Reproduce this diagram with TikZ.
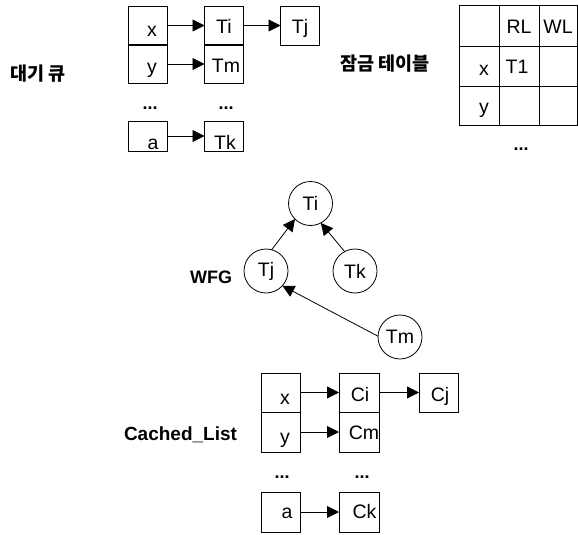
\documentclass[tikz,border=0pt]{standalone}
\usepackage{fontspec}
\setmainfont{Liberation Sans}
\newfontfamily\kr{Noto Sans CJK KR}
\usetikzlibrary{arrows.meta}
\begin{document}
\begin{tikzpicture}[x=1pt,y=-1pt,
  box/.style={draw, line width=0.8pt, minimum width=39pt, minimum height=39pt, inner sep=0pt, outer sep=0pt},
  shortbox/.style={box, minimum height=30pt},
  txt/.style={inner sep=0pt, anchor=base, font=\fontsize{19.5}{19.5}\selectfont},
  dots/.style={inner sep=0pt, anchor=base, font=\bfseries\fontsize{18}{18}\selectfont},
  lbl/.style={inner sep=0pt, font=\bfseries\fontsize{18}{18}\selectfont},
  krlbl/.style={inner sep=0pt, font=\kr\bfseries\fontsize{18.5}{18.5}\selectfont},
  arr/.style={-{Triangle[length=12pt,width=12pt]}, line width=0.8pt},
  circ/.style={draw, circle, minimum size=44pt, line width=0.8pt, inner sep=0pt, outer sep=0pt, font=\fontsize{19.5}{19.5}\selectfont},
  grid/.style={line width=0.8pt}]
\useasboundingbox (0,0) rectangle (578,535);

% ---------- waiting queue ----------
\node[krlbl] (lblq) at (38,74) {대기 큐};
\node[box] (qx) at (147.5,25.5) {};
\node[box] (qy) at (147.5,64) {};
\node[box] (qTi) at (224,25.5) {};
\node[box] (qTm) at (224,64) {};
\node[box] (qTj) at (300,25.5) {};
\node[shortbox] (qa) at (147.5,136) {};
\node[shortbox] (qTk) at (224,136) {};
\node[txt] (tqx) at (152,37) {x};
\node[txt] (tqy) at (152,74) {y};
\node[txt] (tqTi) at (224,34) {Ti};
\node[txt] (tqTm) at (226,72) {Tm};
\node[txt] (tqTj) at (300,34) {Tj};
\node[txt] (tqa) at (153,149) {a};
\node[txt] (tqTk) at (225,149) {Tk};
\node[dots] (qd1) at (150,109) {...};
\node[dots] (qd2) at (226,109) {...};
\draw[arr] (qx) -- (qTi);
\draw[arr] (qTi) -- (qTj);
\draw[arr] (qy) -- (qTm);
\draw[arr] (qa) -- (qTk);

% ---------- lock table ----------
\node[krlbl] (lblt) at (385,64) {잠금 테이블};
\draw[grid] (459,5) rectangle (577,125);
\draw[grid] (499,5) -- (499,125);
\draw[grid] (539,5) -- (539,125);
\draw[grid] (459,46) -- (577,46);
\draw[grid] (459,86) -- (577,86);
\node[txt] (tRL) at (519,34) {RL};
\node[txt] (tWL) at (558,34) {WL};
\node[txt] (ttx) at (484,75) {x};
\node[txt] (tT1) at (517,74) {T1};
\node[txt] (tty) at (484,113) {y};
\node[dots] (td) at (521,150) {...};

% ---------- WFG ----------
\node[lbl, anchor=base] (lblw) at (211,283) {WFG};
\node[circ] (wTi) at (310.5,203.5) {Ti};
\node[circ] (wTj) at (266,271) {Tj};
\node[circ] (wTk) at (355,271) {Tk};
\node[circ] (wTm) at (400,337) {Tm};
\draw[arr] (wTj.75) -- (wTi.225);
\draw[arr] (wTk.118) -- (wTi.298);
\draw[arr] (wTm.178) -- (wTj.318);

% ---------- cached list ----------
\node[lbl, anchor=base, font=\bfseries\fontsize{19}{19}\selectfont] (lblc) at (180.5,440) {Cached\_List};
\node[box, minimum width=39pt, minimum height=39pt] (cx) at (280.5,392.5) {};
\node[box, minimum width=39pt, minimum height=40pt] (cy) at (280.5,432) {};
\node[box, minimum width=40pt, minimum height=39pt] (cCi) at (359,392.5) {};
\node[box, minimum width=40pt, minimum height=40pt] (cCm) at (359,432) {};
\node[box, minimum width=39pt, minimum height=39pt] (cCj) at (438.5,392.5) {};
\node[box, minimum width=39pt, minimum height=40pt] (ca) at (280.5,512) {};
\node[box, minimum width=40pt, minimum height=40pt] (cCk) at (359,512) {};
\node[txt] (tcx) at (285,404) {x};
\node[txt] (tcy) at (285,443) {y};
\node[txt] (tcCi) at (360,401) {Ci};
\node[txt] (tcCm) at (364,439) {Cm};
\node[txt] (tcCj) at (440,401) {Cj};
\node[txt] (tca) at (287,518) {a};
\node[txt] (tcCk) at (364.5,518) {Ck};
\node[dots] (cd1) at (282,478.5) {...};
\node[dots] (cd2) at (362,478.5) {...};
\draw[arr] (cx) -- (cCi);
\draw[arr] (cCi) -- (cCj);
\draw[arr] (cy) -- (cCm);
\draw[arr] (ca) -- (cCk);
\end{tikzpicture}
\end{document}
